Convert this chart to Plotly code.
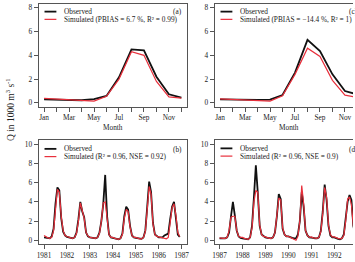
import plotly.graph_objects as go

# ---------------- data ----------------
months = list(range(1, 13))
month_labels = ["Jan", "", "Mar", "", "May", "", "Jul", "", "Sep", "", "Nov", ""]

obs_a = [0.30, 0.26, 0.22, 0.22, 0.32, 0.58, 2.15, 4.50, 4.42, 2.20, 0.72, 0.45]
sim_a = [0.38, 0.32, 0.25, 0.20, 0.15, 0.55, 2.00, 4.30, 4.00, 1.80, 0.50, 0.40]

obs_c = [0.30, 0.28, 0.25, 0.25, 0.28, 0.66, 2.55, 5.30, 4.35, 2.40, 1.00, 0.70]
sim_c = [0.33, 0.30, 0.25, 0.22, 0.15, 0.60, 2.40, 4.60, 3.90, 1.90, 0.65, 0.45]

obs_b = [
    0.30, 0.25, 0.20, 0.20, 0.40, 1.20, 3.80, 5.50, 5.20, 2.30, 0.90, 0.50,   # 1981
    0.35, 0.30, 0.25, 0.20, 0.30, 0.80, 2.20, 4.00, 3.00, 2.40, 0.80, 0.40,   # 1982
    0.30, 0.25, 0.20, 0.20, 0.30, 0.80, 2.00, 3.80, 6.80, 2.50, 0.60, 0.30,   # 1983
    0.25, 0.20, 0.15, 0.10, 0.20, 0.70, 2.50, 3.50, 3.20, 1.50, 0.50, 0.30,   # 1984
    0.25, 0.20, 0.15, 0.15, 0.30, 1.00, 3.50, 6.10, 5.00, 1.80, 0.60, 0.40,   # 1985
    0.30, 0.30, 0.30, 0.50, 0.60, 0.70, 2.20, 3.50, 4.00, 2.50, 0.60, 0.35,   # 1986
]
sim_b = [
    0.50, 0.35, 0.25, 0.20, 0.30, 1.00, 3.50, 5.30, 5.00, 2.50, 1.00, 0.50,
    0.40, 0.30, 0.25, 0.20, 0.30, 0.70, 2.00, 3.90, 3.10, 2.30, 0.80, 0.45,
    0.30, 0.25, 0.20, 0.20, 0.30, 0.70, 2.00, 3.90, 4.00, 2.00, 0.60, 0.30,
    0.30, 0.20, 0.15, 0.10, 0.20, 0.60, 2.30, 3.20, 3.00, 1.40, 0.50, 0.30,
    0.30, 0.20, 0.15, 0.15, 0.30, 0.90, 3.20, 5.60, 4.80, 1.70, 0.60, 0.40,
    0.35, 0.30, 0.25, 0.20, 0.15, 0.30, 1.80, 3.40, 3.80, 2.60, 0.80, 0.40,
]

obs_d = [
    0.20, 0.20, 0.20, 0.20, 0.30, 0.80, 2.50, 4.00, 2.60, 1.00, 0.40, 0.25,   # 1987
    0.20, 0.15, 0.10, 0.10, 0.30, 1.50, 4.50, 7.80, 5.00, 1.50, 0.60, 0.40,   # 1988
    0.30, 0.25, 0.20, 0.20, 0.30, 0.80, 2.50, 4.80, 4.30, 1.20, 0.60, 0.40,   # 1989
    0.40, 0.30, 0.25, 0.20, 0.20, 0.60, 2.00, 5.00, 3.50, 1.00, 0.50, 0.30,   # 1990
    0.30, 0.25, 0.20, 0.20, 0.30, 1.00, 3.00, 5.80, 4.20, 1.50, 0.50, 0.30,   # 1991
    0.30, 0.20, 0.15, 0.10, 0.20, 0.60, 2.20, 4.00, 4.70, 4.20, 1.50, 0.60,   # 1992
]
sim_d = [
    0.25, 0.20, 0.20, 0.20, 0.30, 1.00, 2.40, 2.50, 2.50, 1.00, 0.40, 0.30,
    0.30, 0.20, 0.15, 0.10, 0.30, 1.30, 4.00, 5.20, 5.00, 1.60, 0.60, 0.40,
    0.35, 0.25, 0.20, 0.20, 0.30, 0.80, 2.40, 4.40, 4.20, 1.30, 0.60, 0.40,
    0.40, 0.30, 0.20, 0.10, 0.00, 0.40, 2.00, 5.70, 3.80, 1.00, 0.50, 0.30,
    0.35, 0.25, 0.20, 0.20, 0.30, 0.90, 2.80, 5.50, 4.50, 1.60, 0.60, 0.35,
    0.35, 0.25, 0.20, 0.15, 0.20, 0.50, 2.00, 4.30, 4.50, 3.70, 1.50, 0.60,
]

years_b = list(range(1981, 1988))
years_d = list(range(1987, 1993))
t_b = [1981 + i / 12 for i in range(len(obs_b))]
t_d = [1987 + i / 12 for i in range(len(obs_d))]

legend_sim = [
    "Simulated (PBIAS = 6.7 %, R² = 0.99)",
    "Simulated (PBIAS = −14.4 %, R² = 1)",
    "Simulated (R² = 0.96, NSE = 0.92)",
    "Simulated (R² = 0.96, NSE = 0.9)",
]
panel_tags = ["(a)", "(c)", "(b)", "(d)"]

# ---------------- figure ----------------
W, H = 355, 262
FONT = "Liberation Serif"
BLACK = "#111111"
RED = "#e8303c"
FRAME = "#555555"

def px_x(p):
    return p / W

def px_y(p):
    return 1 - p / H

xdom_l = [px_x(37), px_x(187)]
xdom_r = [px_x(215), 1.0]
ydom_t = [px_y(106.5), px_y(3)]
ydom_b = [px_y(245), px_y(140.4)]

fig = go.Figure()

panels = [
    ("x", "y", months, obs_a, sim_a),
    ("x2", "y2", months, obs_c, sim_c),
    ("x3", "y3", t_b, obs_b, sim_b),
    ("x4", "y4", t_d, obs_d, sim_d),
]
for xa, ya, xs, o, s in panels:
    fig.add_trace(go.Scatter(x=xs, y=o, mode="lines", xaxis=xa, yaxis=ya,
                             line=dict(color=BLACK, width=1.8), showlegend=False,
                             hoverinfo="skip"))
    fig.add_trace(go.Scatter(x=xs, y=s, mode="lines", xaxis=xa, yaxis=ya,
                             line=dict(color=RED, width=1.2), showlegend=False,
                             hoverinfo="skip"))

tickfont = dict(family=FONT, size=7.3, color="#222")
common_ax = dict(showgrid=False, zeroline=False, showline=True, linecolor=FRAME,
                 linewidth=1, ticks="outside", ticklen=4, tickcolor=FRAME,
                 tickwidth=1, tickfont=tickfont)

fig.update_layout(
    width=W, height=H, margin=dict(l=0, r=0, t=0, b=0),
    paper_bgcolor="white", plot_bgcolor="white",
    xaxis=dict(domain=xdom_l, anchor="y", range=[0.56, 12.44], tickvals=months,
               ticktext=month_labels, mirror=True, **common_ax),
    yaxis=dict(domain=ydom_t, anchor="x", range=[-0.32, 8.32],
               tickvals=[0, 2, 4, 6, 8], mirror=True, **common_ax),
    xaxis2=dict(domain=xdom_r, anchor="y2", range=[0.56, 0.56 + 140 / 12.63],
                tickvals=months, ticktext=month_labels, mirror=True, **common_ax),
    yaxis2=dict(domain=ydom_t, anchor="x2", range=[-0.32, 8.32],
                tickvals=[0, 2, 4, 6, 8], mirror=False, **common_ax),
    xaxis3=dict(domain=xdom_l, anchor="y3", range=[1980.763, 1980.763 + 150 / 23.2],
                tickvals=years_b, mirror=True, **common_ax),
    yaxis3=dict(domain=ydom_b, anchor="x3", range=[-0.4, 10.4],
                tickvals=[0, 2, 4, 6, 8, 10], mirror=True, **common_ax),
    xaxis4=dict(domain=xdom_r, anchor="y4", range=[1986.784, 1986.784 + 140 / 23.2],
                tickvals=years_d, mirror=True, **common_ax),
    yaxis4=dict(domain=ydom_b, anchor="x4", range=[-0.4, 10.4],
                tickvals=[0, 2, 4, 6, 8, 10], mirror=False, **common_ax),
)

shapes = []
annotations = []
legend_font = dict(family=FONT, size=7.3, color="#222")

legend_pos = [(37, 10.7), (215, 10.7), (37, 149), (215, 148.5)]
for i, (left, ly) in enumerate(legend_pos):
    for j, (col, lbl, w) in enumerate([(BLACK, "Observed", 1.8), (RED, legend_sim[i], 1.2)]):
        yy = ly + j * 7.8
        shapes.append(dict(type="line", xref="paper", yref="paper",
                           x0=px_x(left + 6), x1=px_x(left + 18),
                           y0=px_y(yy), y1=px_y(yy),
                           line=dict(color=col, width=w)))
        annotations.append(dict(xref="paper", yref="paper", x=px_x(left + 24),
                                y=px_y(yy), text=lbl, showarrow=False,
                                xanchor="left", yanchor="middle", font=legend_font))

tag_pos = [(184, 11), (362, 11), (184, 150), (362, 150)]
for tag, (tx, ty) in zip(panel_tags, tag_pos):
    annotations.append(dict(xref="paper", yref="paper", x=px_x(tx), y=px_y(ty),
                            text=tag, showarrow=False, xanchor="right",
                            yanchor="middle", font=legend_font))

for cx in [112, 290]:
    annotations.append(dict(xref="paper", yref="paper", x=px_x(cx), y=px_y(127.5),
                            text="Month", showarrow=False, xanchor="center",
                            yanchor="middle", font=legend_font))

annotations.append(dict(xref="paper", yref="paper", x=px_x(8), y=px_y(109),
                        text="Q in 1000 m<sup>3</sup> s<sup>-1</sup>", textangle=-90,
                        showarrow=False, xanchor="center", yanchor="middle",
                        font=dict(family=FONT, size=9.5, color="#222")))

fig.update_layout(shapes=shapes, annotations=annotations)

fig.write_html("out.html")
